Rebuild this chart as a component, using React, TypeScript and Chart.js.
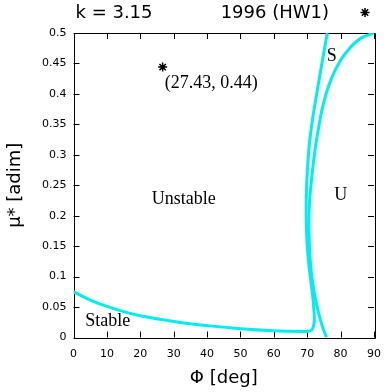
import React, { useEffect, useRef } from 'react';
import { Chart, registerables } from 'chart.js';

Chart.register(...registerables);

// ---- data ----
const TITLE_TEXT = 'k = 3.15';
const SERIES_LABEL = '1996 (HW1)';
const X_TITLE = 'Φ [deg]';
const Y_TITLE = 'μ* [adim]';

const X_TICKS = [0, 10, 20, 30, 40, 50, 60, 70, 80, 90];
const Y_TICKS = [0, 0.05, 0.1, 0.15, 0.2, 0.25, 0.3, 0.35, 0.4, 0.45, 0.5];

// boundary curve starting at the left (stable region lower boundary, then the "S" side)
const PHI_A = [0, 5, 10, 15, 20, 30, 40, 50, 60, 65, 68.5, 70.3, 71.3, 71.95, 72.15, 72.0, 71.55, 70.9, 70.3, 69.9, 69.7, 69.75, 70.0, 70.6, 71.5, 72.8, 74.5, 76.0];
const MU_A = [0.075, 0.0615, 0.051, 0.0425, 0.0357, 0.0262, 0.0195, 0.0145, 0.011, 0.0102, 0.01, 0.0102, 0.0123, 0.0205, 0.0287, 0.045, 0.0726, 0.1, 0.13, 0.16, 0.2, 0.2368, 0.27, 0.315, 0.355, 0.399, 0.4535, 0.5];

// boundary curve from the top-right corner down to the axis (the "U" side)
const PHI_B = [90, 86.2, 82.7, 79.8, 77.3, 75.6, 74.3, 73.4, 72.4, 71.5, 70.6, 70.6, 71.0, 71.6, 72.4, 73.4, 74.6, 75.8];
const MU_B = [0.5, 0.492, 0.475, 0.4535, 0.426, 0.399, 0.371, 0.344, 0.311, 0.27, 0.215, 0.16, 0.12, 0.09, 0.065, 0.04, 0.017, 0];

// marked case
const POINT_PHI = [26.7];
const POINT_MU = [0.444];

// region labels (data coordinates)
const LABEL_TEXTS = ['Unstable', 'Stable', 'S', 'U', '(27.43, 0.44)'];
const LABEL_PHI = [33.05, 10.27, 77.37, 80.02, 27.3];
const LABEL_MU = [0.2274, 0.026, 0.4617, 0.2332, 0.4174];
const LABEL_ALIGN: CanvasTextAlign[] = ['center', 'center', 'center', 'center', 'left'];

const CURVE_COLOR = '#00eeee';
const SANS = '"DejaVu Sans", Verdana, sans-serif';
const SERIF = '"Liberation Serif", "Times New Roman", serif';

function drawStar(ctx: CanvasRenderingContext2D, x: number, y: number, r: number) {
  ctx.save();
  ctx.strokeStyle = '#000';
  ctx.lineWidth = 1.5;
  ctx.beginPath();
  ctx.moveTo(x - r, y); ctx.lineTo(x + r, y);
  ctx.moveTo(x, y - r); ctx.lineTo(x, y + r);
  const d = r * 0.7071;
  ctx.moveTo(x - d, y - d); ctx.lineTo(x + d, y + d);
  ctx.moveTo(x - d, y + d); ctx.lineTo(x + d, y - d);
  ctx.stroke();
  ctx.restore();
}

const framePlugin = {
  id: 'gnuFrame',
  beforeDatasetsDraw(chart: any) {
    const { ctx, chartArea: a, scales } = chart;
    const xs = scales.x, ys = scales.y;
    const tl = 6;
    ctx.save();
    ctx.strokeStyle = '#000';
    ctx.lineWidth = 1;
    ctx.beginPath();
    ctx.rect(Math.round(a.left) + 0.5, Math.round(a.top) + 0.5, Math.round(a.right - a.left), Math.round(a.bottom - a.top));
    for (const v of X_TICKS) {
      const px = Math.round(xs.getPixelForValue(v)) + 0.5;
      ctx.moveTo(px, a.bottom); ctx.lineTo(px, a.bottom - tl);
      ctx.moveTo(px, a.top); ctx.lineTo(px, a.top + tl);
    }
    for (const v of Y_TICKS) {
      const py = Math.round(ys.getPixelForValue(v)) + 0.5;
      ctx.moveTo(a.left, py); ctx.lineTo(a.left + tl, py);
      ctx.moveTo(a.right, py); ctx.lineTo(a.right - tl, py);
    }
    ctx.stroke();
    ctx.restore();
  },
  afterDatasetsDraw(chart: any) {
    const { ctx, chartArea: a, scales } = chart;
    const xs = scales.x, ys = scales.y;
    ctx.save();
    ctx.fillStyle = '#000';
    ctx.textBaseline = 'middle';
    ctx.font = `18px ${SERIF}`;
    LABEL_TEXTS.forEach((t, i) => {
      ctx.textAlign = LABEL_ALIGN[i];
      ctx.fillText(t, xs.getPixelForValue(LABEL_PHI[i]), ys.getPixelForValue(LABEL_MU[i]));
    });
    // header: title and key
    ctx.font = `18px ${SANS}`;
    ctx.textAlign = 'left';
    ctx.fillText(TITLE_TEXT, a.left + 2, 13);
    ctx.textAlign = 'right';
    ctx.fillText(SERIES_LABEL, a.right - 45, 13);
    drawStar(ctx, a.right - 9, 12.5, 4.5);
    ctx.restore();
  },
};

export default function App() {
  const ref = useRef<HTMLCanvasElement | null>(null);
  useEffect(() => {
    if (!ref.current) return;
    const curve = (px: number[], mu: number[], label: string) => ({
      label,
      data: px.map((x, i) => ({ x, y: mu[i] })),
      showLine: true,
      borderColor: CURVE_COLOR,
      borderWidth: 3,
      pointRadius: 0,
      tension: 0.4,
      fill: false,
    });
    const chart = new Chart(ref.current, {
      type: 'scatter',
      data: {
        datasets: [
          curve(PHI_A, MU_A, 'boundary A'),
          curve(PHI_B, MU_B, 'boundary B'),
          {
            label: SERIES_LABEL,
            data: POINT_PHI.map((x, i) => ({ x, y: POINT_MU[i] })),
            showLine: false,
            pointStyle: 'star',
            pointRadius: 4.5,
            borderColor: '#000',
            backgroundColor: '#000',
            borderWidth: 1.5,
          },
        ],
      },
      options: {
        responsive: false,
        animation: false,
        events: [],
        layout: { padding: { top: 33, right: 13, left: 0, bottom: 0 } },
        plugins: { legend: { display: false }, tooltip: { enabled: false }, title: { display: false } },
        scales: {
          x: {
            type: 'linear',
            min: 0,
            max: 90,
            afterBuildTicks: (s: any) => { s.ticks = X_TICKS.map((v) => ({ value: v })); },
            afterFit: (s: any) => { s.height = 54.5; },
            grid: { display: false, drawTicks: false },
            border: { display: false },
            ticks: { color: '#000', padding: 10, maxRotation: 0, font: { family: SANS, size: 11 } },
            title: { display: true, text: X_TITLE, color: '#000', font: { family: SANS, size: 18 }, padding: { top: 0, bottom: 3 } },
          },
          y: {
            type: 'linear',
            min: 0,
            max: 0.5,
            afterBuildTicks: (s: any) => { s.ticks = Y_TICKS.map((v) => ({ value: v })); },
            afterFit: (s: any) => { s.width = 73.5; },
            grid: { display: false, drawTicks: false },
            border: { display: false },
            ticks: {
              color: '#000',
              padding: 7,
              font: { family: SANS, size: 11 },
              callback: (v: any) => String(Math.round(Number(v) * 100) / 100),
            },
            title: { display: true, text: Y_TITLE, color: '#000', font: { family: SANS, size: 18 }, padding: { top: 5, bottom: 0 } },
          },
        },
      },
      plugins: [framePlugin],
    });
    return () => chart.destroy();
  }, []);
  return (
    <div style={{ position: 'fixed', left: 0, top: 0, width: 391, height: 392, background: '#fff' }}>
      <canvas ref={ref} width={391} height={392} style={{ width: 391, height: 392, display: 'block' }} />
    </div>
  );
}
